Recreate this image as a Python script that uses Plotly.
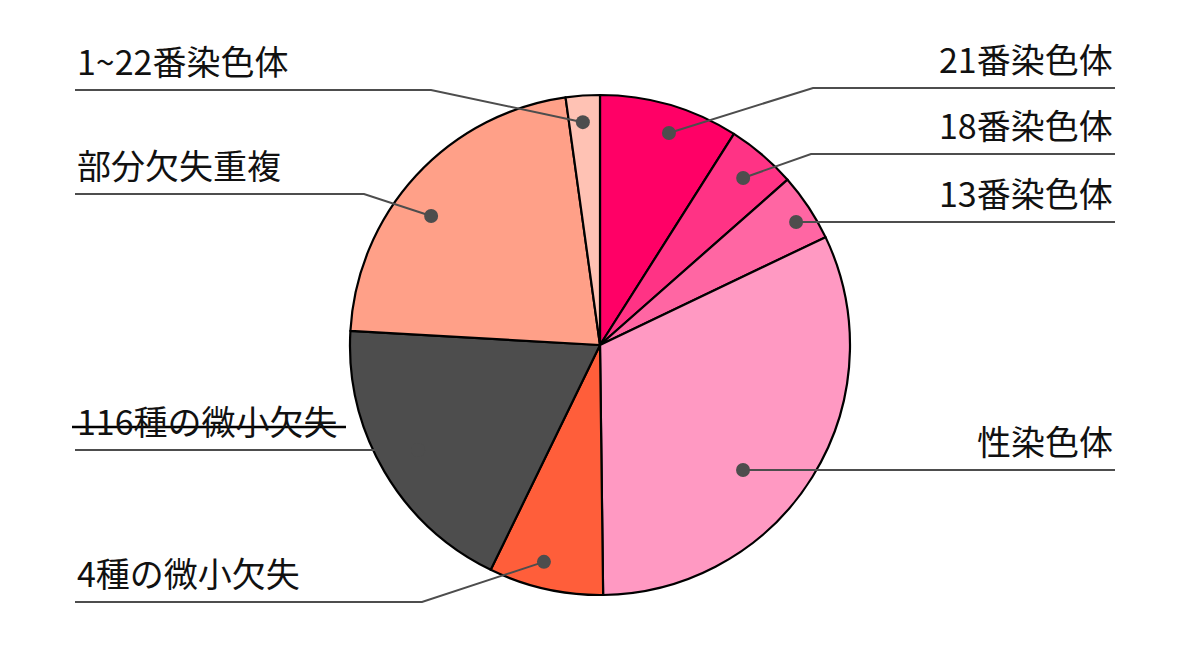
import math
import plotly.graph_objects as go

# ---- data ----
labels = ["21番染色体", "18番染色体", "13番染色体", "性染色体",
          "4種の微小欠失", "116種の微小欠失", "部分欠失重複", "1~22番染色体"]
values = [9.0, 4.5, 4.4, 31.9, 7.4, 18.7, 21.9, 2.2]
colors = ["#ff0066", "#ff3385", "#ff66a3", "#ff99c2",
          "#ff5e3a", "#4d4d4d", "#ffa088", "#ffc2b4"]
struck = ["116種の微小欠失"]

# ---- label/leader layout (pixel space) ----
W, H = 1200, 657
CX, CY, R = 600, 345, 250
anchor_frac = [0.556, 0.506, 0.587, 0.581, 0.571, 0.506, 0.433, 0.444]
anchor_r = [0.892, 0.880, 0.926, 0.760, 0.896, 0.840, 0.850, 0.894]
side = ["right", "right", "right", "right", "left", "left", "left", "left"]
line_y = [88, 154, 222, 470, 602, 450, 194, 90]
elbow_x = [813, 811, None, None, 422, None, 364, 431]
LEFT_X, RIGHT_X = 75, 1115
FS = 34

fig = go.Figure()
fig.add_trace(go.Pie(
    labels=labels, values=values, sort=False, direction="clockwise", rotation=0,
    marker=dict(colors=colors, line=dict(color="#000000", width=2.2)),
    textinfo="none", hoverinfo="label+percent", showlegend=False,
    domain=dict(x=[(CX - R) / W, (CX + R) / W], y=[(H - CY - R) / H, (H - CY + R) / H]),
))
fig.add_trace(go.Scatter(x=[0, W], y=[0, H], mode="markers",
                         marker=dict(opacity=0), hoverinfo="skip", showlegend=False))

total = sum(values)
cum = 0.0
shapes = []
annotations = []
for i, v in enumerate(values):
    a0 = cum / total * 360
    a1 = (cum + v) / total * 360
    cum += v
    ang = math.radians(a0 + anchor_frac[i] * (a1 - a0))
    r = anchor_r[i] * R
    dx = CX + r * math.sin(ang)
    dy = CY - r * math.cos(ang)
    ly = line_y[i]
    endx = RIGHT_X if side[i] == "right" else LEFT_X
    if elbow_x[i] is None:
        path = f"M {dx},{ly} L {endx},{ly}"
        dy = ly
    else:
        path = f"M {dx},{dy} L {elbow_x[i]},{ly} L {endx},{ly}"
    shapes.append(dict(type="path", path=path, xref="x", yref="y", layer="above",
                       line=dict(color="#4d4d4d", width=2)))
    shapes.append(dict(type="circle", xref="x", yref="y", layer="above",
                       x0=dx - 7, x1=dx + 7, y0=dy - 7, y1=dy + 7,
                       fillcolor="#4d4d4d", line=dict(width=0)))
    annotations.append(dict(
        x=endx, y=ly - 3, xref="x", yref="y", text=labels[i], showarrow=False,
        xanchor="right" if side[i] == "right" else "left", yanchor="bottom",
        font=dict(family="Noto Sans CJK JP", size=FS, color="#111111")))
    if labels[i] in struck:
        sy = ly - 23
        shapes.append(dict(type="line", xref="x", yref="y", layer="above",
                           x0=endx - 3, x1=endx + 271, y0=sy, y1=sy,
                           line=dict(color="#000000", width=2.5)))

fig.update_layout(
    width=W, height=H, margin=dict(l=0, r=0, t=0, b=0),
    paper_bgcolor="white", plot_bgcolor="white",
    xaxis=dict(range=[0, W], visible=False, fixedrange=True),
    yaxis=dict(range=[H, 0], visible=False, fixedrange=True),
    shapes=shapes, annotations=annotations,
)
fig.write_html("out.html", config={"displayModeBar": False},
               post_script="document.body.style.margin='0';document.body.style.overflow='hidden';")
